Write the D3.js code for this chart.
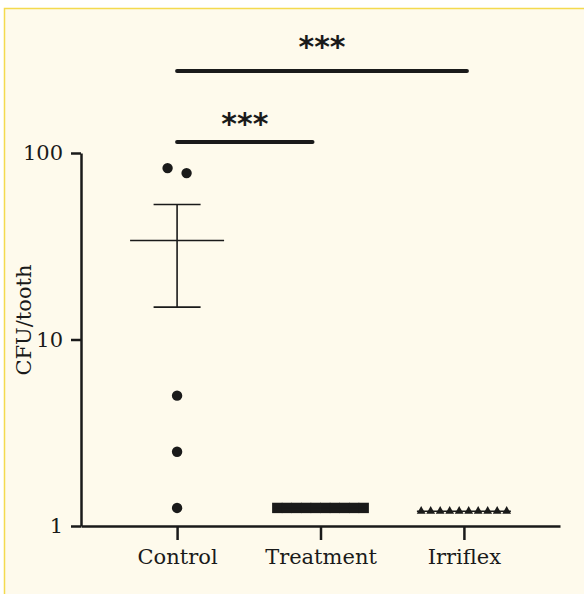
<!DOCTYPE html>
<html>
<head>
<meta charset="utf-8">
<script src="https://cdn.jsdelivr.net/npm/d3@7/dist/d3.min.js"></script>
<style>
    body { margin: 0; background: #ffffff; }
    svg text { fill: #1a1a1a; }
</style>
</head>
<body>
<svg id="chart" width="584" height="594"></svg>
<script>
// values (CFU per tooth)
var groups = ['Control', 'Treatment', 'Irriflex'];
var controlValues = [83, 78, 5, 2.5, 1.25];
var treatmentValues = [1.25, 1.25, 1.25, 1.25, 1.25, 1.25, 1.25, 1.25, 1.25, 1.25];
var irriflexValues = [1.2, 1.2, 1.2, 1.2, 1.2, 1.2, 1.2, 1.2, 1.2, 1.2];
var yTicks = [1, 10, 100];
var comparisons = [
    { from: 'Control', to: 'Irriflex', label: '***' },
    { from: 'Control', to: 'Treatment', label: '***' }
];

var ink = '#1a1a1a';
var svg = d3.select('#chart');

// page background with the yellow frame on top / left
svg.append('rect')
    .attr('x', 4.5).attr('y', 8.5)
    .attr('width', 640).attr('height', 640)
    .attr('fill', '#fefaec')
    .attr('stroke', '#f4da4e')
    .attr('stroke-width', 1.5);

var x = d3.scalePoint().domain(groups).range([81, 560]).padding(0.67);
var y = d3.scaleLog().domain([1, 100]).range([526, 153]);

// mean and standard error of the mean
function mean(a) { return d3.mean(a); }
function sem(a) {
    if (a.length < 2) return 0;
    return d3.deviation(a) / Math.sqrt(a.length);
}

// spread points that would overlap into centred rows
function spread(values, spacing, minGap) {
    var idx = values.map(function (v, i) { return i; })
        .sort(function (a, b) { return y(values[a]) - y(values[b]); });
    var offsets = new Array(values.length);
    var rows = [];
    idx.forEach(function (i) {
        var last = rows[rows.length - 1];
        if (last && Math.abs(y(values[i]) - y(values[last[last.length - 1]])) < minGap) {
            last.push(i);
        } else {
            rows.push([i]);
        }
    });
    rows.forEach(function (row) {
        row.forEach(function (i, k) {
            offsets[i] = (k - (row.length - 1) / 2) * spacing;
        });
    });
    return offsets;
}

var series = [
    { name: 'Control', values: controlValues, symbol: d3.symbolCircle, size: 85, spacing: 19 },
    { name: 'Treatment', values: treatmentValues, symbol: d3.symbolSquare, size: 108, spacing: 9.6 },
    { name: 'Irriflex', values: irriflexValues, symbol: d3.symbolTriangle, size: 34, spacing: 9.5 }
];

// axes
var yAxis = d3.axisLeft(y)
    .tickValues(yTicks)
    .tickFormat(d3.format('d'))
    .tickSize(10)
    .tickSizeOuter(0)
    .tickPadding(8);

var gy = svg.append('g')
    .attr('transform', 'translate(81,0)')
    .call(yAxis);

var xAxis = d3.axisBottom(x)
    .tickSize(14)
    .tickSizeOuter(0)
    .tickPadding(9);

var gx = svg.append('g')
    .attr('transform', 'translate(0,526)')
    .call(xAxis);

[gx, gy].forEach(function (g) {
    g.selectAll('path, line').attr('stroke', ink).attr('stroke-width', 2.5);
    g.selectAll('text')
        .attr('fill', ink)
        .style('font-family', '"DejaVu Serif", serif')
        .style('font-size', '21px');
});

svg.append('text')
    .attr('transform', 'translate(31,320) rotate(-90)')
    .attr('text-anchor', 'middle')
    .style('font-family', '"DejaVu Serif", serif')
    .style('font-size', '21px')
    .text('CFU/tooth');

// points, mean line and error bars
series.forEach(function (s) {
    var cx = x(s.name);
    var offs = spread(s.values, s.spacing, 9);
    var g = svg.append('g');

    g.selectAll('path.pt')
        .data(s.values)
        .enter().append('path')
        .attr('class', 'pt')
        .attr('d', d3.symbol().type(s.symbol).size(s.size))
        .attr('transform', function (d, i) {
            return 'translate(' + (cx + offs[i]) + ',' + y(d) + ')';
        })
        .attr('fill', ink);

    var m = mean(s.values), e = sem(s.values);
    var lines = g.append('g').attr('stroke', ink).attr('stroke-width', 1.6);
    lines.append('line')
        .attr('x1', cx - 47).attr('x2', cx + 47)
        .attr('y1', y(m)).attr('y2', y(m));
    if (e > 0) {
        lines.append('line')
            .attr('x1', cx).attr('x2', cx)
            .attr('y1', y(m + e)).attr('y2', y(m - e));
        [m + e, m - e].forEach(function (v) {
            lines.append('line')
                .attr('x1', cx - 23.5).attr('x2', cx + 23.5)
                .attr('y1', y(v)).attr('y2', y(v));
        });
    }
});

// significance brackets
var barY = [71, 142];
var barEndInset = [-3, 8];
var starGap = [30, 24];
comparisons.forEach(function (c, i) {
    var x1 = x(c.from), x2 = x(c.to) - barEndInset[i];
    svg.append('line')
        .attr('x1', x1).attr('x2', x2)
        .attr('y1', barY[i]).attr('y2', barY[i])
        .attr('stroke', ink)
        .attr('stroke-width', 4)
        .attr('stroke-linecap', 'round');
    svg.append('text')
        .attr('x', (x1 + x2) / 2)
        .attr('y', barY[i] - starGap[i] + 16)
        .attr('text-anchor', 'middle')
        .style('font-family', '"DejaVu Sans", sans-serif')
        .style('font-weight', 'bold')
        .style('font-size', '30px')
        .text(c.label);
});
</script>
</body>
</html>
